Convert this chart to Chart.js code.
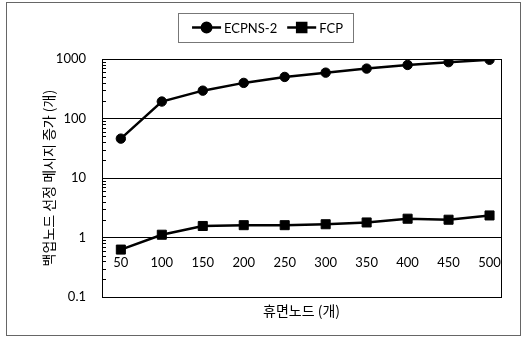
<!DOCTYPE html>
<html>
<head>
<meta charset="utf-8">
<script src="https://cdn.jsdelivr.net/npm/chart.js@4/dist/chart.umd.min.js"></script>
<style>
  html, body { margin: 0; padding: 0; background: #fff; }
  #wrap { width: 523px; height: 339px; position: relative; }
</style>
</head>
<body>
<div id="wrap"><canvas id="c"></canvas></div>
<script>
// Number of dormant nodes (x axis)
const nodeCounts = [50, 100, 150, 200, 250, 300, 350, 400, 450, 500];
// Extra backup-node selection messages per scheme
const ecpns2 = [46, 193, 294, 397, 500, 590, 690, 795, 885, 970];
const fcp = [0.63, 1.12, 1.57, 1.62, 1.62, 1.68, 1.8, 2.08, 2.0, 2.36];
// Labelled decades on the log axis
const yTicks = [0.1, 1, 10, 100, 1000];
const seriesNames = ['ECPNS-2', 'FCP'];
const xTitle = '휴면노드 (개)';
const yTitle = '백업노드 선정 메시지 증가 (개)';

const numFont = { family: "Lato, 'Noto Sans CJK KR', sans-serif", size: 13 };
const krFont = { family: "'Noto Sans CJK KR', sans-serif", size: 14 };

// Frames, minor log ticks and the boxed legend
const decorations = {
  id: 'decorations',
  beforeDatasetsDraw(chart) {
    const { ctx, chartArea: a } = chart;
    const y = chart.scales.y;
    ctx.save();
    ctx.strokeStyle = '#000';
    ctx.lineWidth = 1;
    ctx.strokeRect(Math.round(a.left) + 0.5, Math.round(a.top) + 0.5,
                   Math.round(a.right - a.left), Math.round(a.bottom - a.top));
    ctx.beginPath();
    for (let d = 0; d < yTicks.length - 1; d++) {
      for (let k = 2; k <= 9; k++) {
        const py = Math.round(y.getPixelForValue(yTicks[d] * k)) + 0.5;
        ctx.moveTo(a.left, py);
        ctx.lineTo(a.left + 4, py);
      }
    }
    ctx.stroke();
    ctx.restore();
  },
  afterDraw(chart) {
    const { ctx } = chart;
    ctx.save();
    // outer frame
    ctx.strokeStyle = '#666';
    ctx.lineWidth = 1;
    ctx.strokeRect(6.5, 2.5, 514, 333);
    // legend box
    const bx = 178, by = 13, bw = 175, bh = 29;
    ctx.strokeStyle = '#777';
    ctx.strokeRect(bx + 0.5, by + 0.5, bw, bh);
    ctx.font = numFont.size + 'px ' + numFont.family;
    const lineW = 29, gap = 3, itemGap = 10;
    const items = chart.data.datasets.map(ds => ({ ds, w: lineW + gap + ctx.measureText(ds.label).width }));
    const total = items.reduce((s, it) => s + it.w, 0) + itemGap * (items.length - 1);
    let x = bx + (bw - total) / 2 + 2;
    const cy = by + bh / 2;
    items.forEach(it => {
      ctx.strokeStyle = '#000';
      ctx.lineWidth = it.ds.borderWidth;
      ctx.beginPath();
      ctx.moveTo(x, cy);
      ctx.lineTo(x + lineW, cy);
      ctx.stroke();
      ctx.fillStyle = '#000';
      Chart.helpers.drawPoint(ctx, {
        pointStyle: it.ds.pointStyle, radius: it.ds.pointRadius, rotation: 0, borderWidth: 1
      }, x + lineW / 2, cy);
      ctx.fill();
      ctx.fillStyle = '#000';
      ctx.textBaseline = 'middle';
      ctx.textAlign = 'left';
      ctx.fillText(it.ds.label, x + lineW + gap, cy + 1);
      x += it.w + itemGap;
    });
    ctx.restore();
  }
};

const toPoints = vals => nodeCounts.map((n, i) => ({ x: n, y: vals[i] }));

new Chart(document.getElementById('c'), {
  type: 'line',
  data: {
    datasets: [
      {
        label: seriesNames[0], data: toPoints(ecpns2),
        borderColor: '#000', backgroundColor: '#000', borderWidth: 2.5,
        pointStyle: 'circle', pointRadius: 4.7, pointBorderWidth: 1, tension: 0
      },
      {
        label: seriesNames[1], data: toPoints(fcp),
        borderColor: '#000', backgroundColor: '#000', borderWidth: 2.5,
        pointStyle: 'rect', pointRadius: 6.4, pointBorderWidth: 1, tension: 0
      }
    ]
  },
  options: {
    responsive: true,
    maintainAspectRatio: false,
    animation: false,
    devicePixelRatio: 1,
    layout: { padding: { top: 59, right: 22, bottom: 16, left: 20 } },
    plugins: { legend: { display: false }, tooltip: { enabled: false } },
    scales: {
      x: {
        type: 'linear',
        position: { y: 1 },
        min: 27, max: 514,
        afterBuildTicks: s => { s.ticks = nodeCounts.map(v => ({ value: v })); },
        grid: { display: false, drawTicks: false },
        border: { display: true, color: '#000', width: 1 },
        ticks: { color: '#000', font: numFont, padding: 17, autoSkip: false, maxRotation: 0,
                 callback: v => String(v) }
      },
      x2: {
        type: 'linear',
        axis: 'x',
        position: 'bottom',
        grid: { display: false, drawTicks: false },
        border: { display: false },
        ticks: { display: false },
        title: { display: true, text: xTitle, color: '#000', font: krFont, padding: { top: 5, bottom: 4 } }
      },
      y: {
        type: 'logarithmic',
        min: 0.1, max: 1000,
        afterBuildTicks: s => { s.ticks = yTicks.map(v => ({ value: v })); },
        afterFit: s => { s.width = 82; },
        grid: { color: '#000', lineWidth: 1, drawTicks: false },
        border: { display: true, color: '#000', width: 1 },
        ticks: { color: '#000', font: numFont, padding: 16, callback: v => String(v) },
        title: { display: true, text: yTitle, color: '#000', font: krFont, padding: { top: 20.6, bottom: 0 } }
      }
    }
  },
  plugins: [decorations]
});
</script>
</body>
</html>
